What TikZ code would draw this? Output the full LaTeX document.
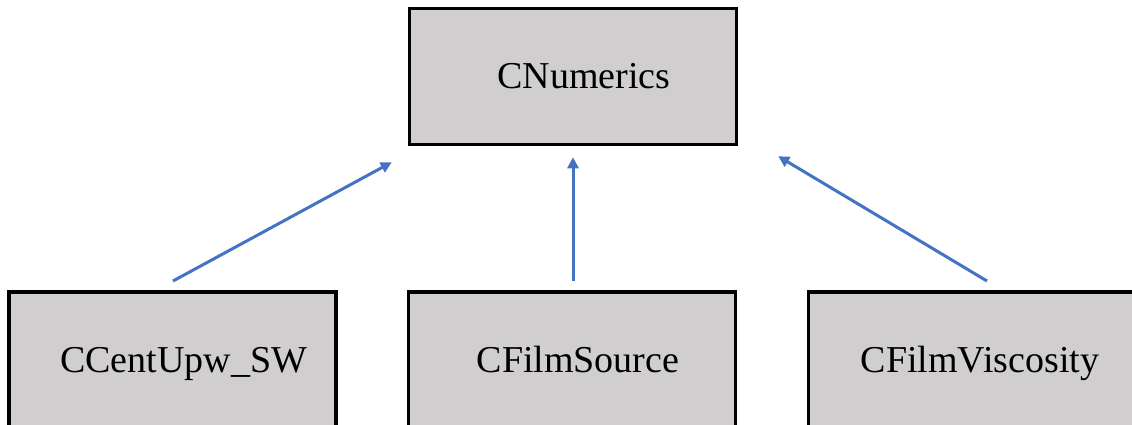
\documentclass[tikz,border=0pt]{standalone}
\usepackage{fontspec}
\setmainfont{Liberation Serif}
\usetikzlibrary{arrows.meta}

\definecolor{boxgray}{RGB}{208,206,206}
\definecolor{arrowblue}{RGB}{68,114,196}

\begin{document}
\begin{tikzpicture}[x=1pt, y=-1pt,
   classbox/.style={draw=black, fill=boxgray, line width=3.5pt,
      minimum width=327pt, minimum height=136pt, inner sep=0pt},
   classname/.style={inner sep=0pt, text height=25pt, text depth=0pt,
      font=\fontsize{38}{40}\selectfont},
   inherit/.style={draw=arrowblue, line width=3pt,
      -{Triangle[length=11pt, width=11pt]}}]

   \def\W{1132}; % picture width
   \def\H{425}; % picture height

   \def\yt{76.5}; % top row
   \def\yb{359.75}; % bottom row

   \def\xl{172.5};
   \def\xm{572};
   \def\xr{972};

   \useasboundingbox (0, 0) rectangle (\W, \H);
   \clip (0, 0) rectangle (\W, \H);

   \node[classbox] (num) at (573, \yt) {};
   \node[classbox] (upw) at (\xl, \yb) {};
   \node[classbox] (src) at (\xm, \yb) {};
   \node[classbox] (visc) at (\xr, \yb) {};

   \node[classname] (numName) at ([xshift=11pt]num.center) {CNumerics};
   \node[classname] (upwName) at ([xshift=11pt]upw.center) {CCentUpw\_SW};
   \node[classname] (srcName) at ([xshift=6pt]src.center) {CFilmSource};
   \node[classname] (viscName) at ([xshift=8pt]visc.center) {CFilmViscosity};

   \coordinate (tipUpw) at ([xshift=-16pt, yshift=-16pt]num.south west);
   \coordinate (tipSrc) at ([yshift=-11pt]num.south);
   \coordinate (tipVisc) at ([xshift=40pt, yshift=-10pt]num.south east);

   \draw[inherit] ([xshift=0.5pt, yshift=9pt]upw.north) -- (tipUpw);
   \draw[inherit] ([yshift=9pt]src.north -| tipSrc) -- (tipSrc);
   \draw[inherit] ([xshift=15pt, yshift=9pt]visc.north) -- (tipVisc);

\end{tikzpicture}
\end{document}
